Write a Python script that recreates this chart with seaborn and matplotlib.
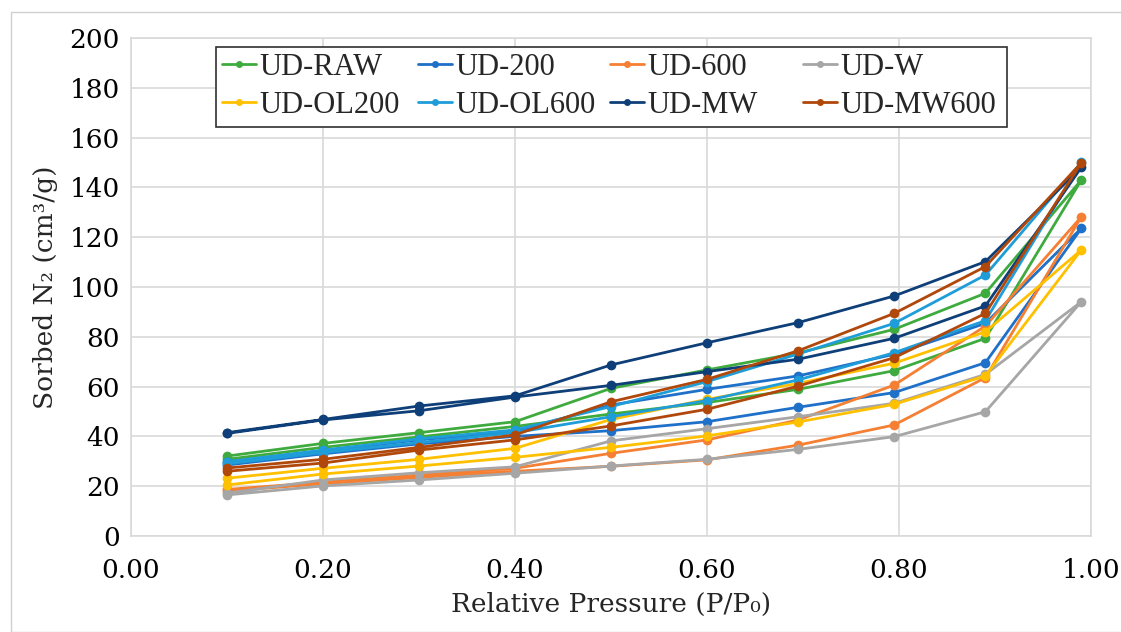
import numpy as np
import pandas as pd
import matplotlib
matplotlib.use("Agg")
import matplotlib.pyplot as plt
import seaborn as sns
from matplotlib.font_manager import FontProperties
from matplotlib.patches import Rectangle

# ---------------- data ----------------
pressure = [0.10, 0.20, 0.30, 0.40, 0.50, 0.60, 0.695, 0.795, 0.89, 0.99]
samples = ["UD-RAW", "UD-200", "UD-600", "UD-W",
           "UD-OL200", "UD-OL600", "UD-MW", "UD-MW600"]
colors = ["#3FAB3F", "#1F70C8", "#F57F32", "#A6A6A6",
          "#FFC000", "#1E9DD8", "#0E3F78", "#B0470B"]

raw_ads = [30.8, 35.6, 39.8, 44.0, 49.0, 53.6, 58.9, 66.4, 79.4, 143.0]
raw_des = [32.1, 37.2, 41.5, 45.9, 59.3, 66.7, 73.5, 83.0, 97.5, 143.0]
ud200_ads = [28.5, 33.0, 37.0, 40.0, 42.3, 45.9, 51.7, 57.6, 69.6, 123.6]
ud200_des = [29.8, 34.2, 38.6, 42.0, 52.6, 58.9, 64.3, 73.0, 85.4, 123.6]
ud600_ads = [18.0, 21.0, 23.5, 26.0, 28.0, 30.6, 36.5, 44.6, 63.6, 128.2]
ud600_des = [18.7, 21.6, 24.5, 27.2, 33.2, 38.6, 46.6, 60.6, 84.3, 128.2]
udw_ads = [16.5, 20.1, 22.5, 25.2, 28.1, 30.8, 34.8, 39.9, 49.9, 94.1]
udw_des = [17.2, 22.5, 25.4, 27.8, 38.2, 43.1, 47.9, 53.3, 64.9, 94.1]
ol200_ads = [20.5, 24.9, 28.1, 31.6, 35.6, 40.2, 45.8, 52.9, 64.3, 114.9]
ol200_des = [23.2, 27.2, 30.8, 35.2, 46.8, 54.9, 61.3, 69.4, 82.0, 114.9]
ol600_ads = [29.0, 33.5, 37.5, 41.5, 47.9, 54.4, 62.7, 73.6, 86.5, 150.0]
ol600_des = [29.8, 34.5, 39.0, 42.6, 52.0, 62.0, 73.1, 85.4, 104.8, 150.0]
mw_ads = [41.2, 46.6, 50.3, 55.8, 60.5, 66.0, 71.0, 79.4, 92.4, 148.1]
mw_des = [41.5, 46.8, 52.2, 56.3, 68.7, 77.6, 85.7, 96.4, 110.2, 148.1]
mw600_ads = [26.0, 29.3, 34.5, 38.6, 44.2, 50.9, 60.2, 71.6, 89.4, 149.9]
mw600_des = [27.3, 30.8, 35.6, 40.6, 53.9, 62.9, 74.4, 89.4, 108.2, 149.9]

xtick_vals = [0.0, 0.2, 0.4, 0.6, 0.8, 1.0]
ytick_vals = list(range(0, 201, 20))

branches = {
    "UD-RAW": (raw_ads, raw_des),
    "UD-200": (ud200_ads, ud200_des),
    "UD-600": (ud600_ads, ud600_des),
    "UD-W": (udw_ads, udw_des),
    "UD-OL200": (ol200_ads, ol200_des),
    "UD-OL600": (ol600_ads, ol600_des),
    "UD-MW": (mw_ads, mw_des),
    "UD-MW600": (mw600_ads, mw600_des),
}

rows = []
for name in samples:
    ads, des = branches[name]
    order = 0
    for p, v in zip(pressure, ads):
        rows.append({"Sample": name, "P": p, "V": v, "order": order}); order += 1
    for p, v in zip(pressure[-2::-1], des[-2::-1]):
        rows.append({"Sample": name, "P": p, "V": v, "order": order}); order += 1
df = pd.DataFrame(rows)

# ---------------- plot ----------------
sns.set_theme(style="white")
plt.rcParams["font.family"] = ["DejaVu Serif"]

W, H = 1121, 632
fig = plt.figure(figsize=(W / 100, H / 100), dpi=100)
ax = fig.add_axes([131 / W, 1 - 536 / H, 960 / W, 498 / H])

sns.lineplot(data=df, x="P", y="V", hue="Sample", hue_order=samples,
             palette=colors, estimator=None, sort=False, marker="o",
             markersize=7, markeredgewidth=0, linewidth=2.0, ax=ax)

ax.set_xlim(0, 1)
ax.set_ylim(0, 200)
ax.set_xticks(xtick_vals)
ax.set_xticklabels([f"{v:.2f}" for v in xtick_vals])
ax.set_yticks(ytick_vals)
ax.set_yticklabels([str(v) for v in ytick_vals])
ax.grid(True, color="#D9D9D9", linewidth=1.2)
ax.set_axisbelow(True)
for s in ax.spines.values():
    s.set_color("#D9D9D9")
    s.set_linewidth(1.2)
ax.tick_params(length=0, labelsize=19, colors="#000000")
ax.tick_params(axis="y", pad=8)
ax.tick_params(axis="x", pad=16)

ax.set_xlabel("Relative Pressure (P/P\u2080)", fontsize=19, labelpad=6)
ax.set_ylabel("Sorbed N\u2082 (cm\u00b3/g)", fontsize=19, labelpad=8)

handles, labels = ax.get_legend_handles_labels()
hmap = dict(zip(labels, handles))
if ax.get_legend() is not None:
    ax.get_legend().remove()

# legend frame (Excel style box with white fill)
fig.patches.append(Rectangle((216 / W, 1 - 127 / H), 791 / W, 80 / H,
                             transform=fig.transFigure, facecolor="white",
                             edgecolor="#303030", linewidth=1.2, zorder=2))

# four equally spaced legend columns, as in the reference
columns = [["UD-RAW", "UD-OL200"], ["UD-200", "UD-OL600"],
           ["UD-600", "UD-MW"], ["UD-W", "UD-MW600"]]
col_x = [222, 418, 610, 803]
legprop = FontProperties(family="Liberation Serif", size=22)
for names, cx in zip(columns, col_x):
    lg = fig.legend([hmap[n] for n in names], names, loc="upper left",
                    bbox_to_anchor=(cx / W, 1 - 53 / H),
                    bbox_transform=fig.transFigure, frameon=False,
                    prop=legprop, handlelength=1.1, handletextpad=0.12,
                    labelspacing=0.3, borderpad=0.0, borderaxespad=0.0)
    lg.set_zorder(5)
    for h in lg.legend_handles:
        h.set_markersize(5)
        h.set_linewidth(2.0)

# outer chart border
fig.patches.append(Rectangle((11 / W, 0.0), 1.5, 1 - 12 / H,
                             transform=fig.transFigure, fill=False,
                             edgecolor="#D0D0D0", linewidth=1.0))

fig.savefig("out.png", dpi=100)
